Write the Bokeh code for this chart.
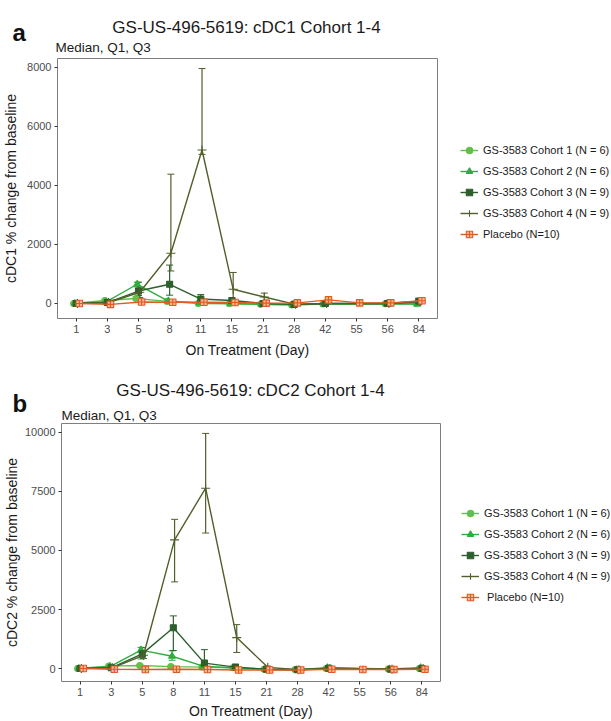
from bokeh.plotting import figure
from bokeh.models import (ColumnDataSource, FactorRange, Range1d, FixedTicker, Whisker,
                          TeeHead, Legend, LegendItem, Label)
from bokeh.transform import dodge
from bokeh.layouts import column, row
from bokeh.embed import file_html
from bokeh.resources import INLINE

days = ['1', '3', '5', '8', '11', '15', '21', '28', '42', '55', '56', '84']

series_names = ["GS-3583 Cohort 1 (N = 6)", "GS-3583 Cohort 2 (N = 6)",
                "GS-3583 Cohort 3 (N = 9)", "GS-3583 Cohort 4 (N = 9)", "Placebo (N=10)"]

# ---- Panel a: cDC1 (median, Q1, Q3) ----
a_c1_med = [0, 100, 170, 70, 0, -10, -30, -50, -20, None, -10, -10]
a_c1_q1 = [0, 60, 120, 40, -20, -30, -50, -60, -40, None, -30, -30]
a_c1_q3 = [0, 130, 220, 110, 30, 10, -10, -30, 0, None, 10, 10]
a_c2_med = [0, 50, 650, 80, 20, 0, -30, -50, -20, None, -10, -20]
a_c2_q1 = [0, 20, 560, 40, 0, -20, -50, -70, -40, None, -30, -40]
a_c2_q3 = [0, 90, 720, 130, 50, 20, -10, -30, 0, None, 10, 0]
a_c3_med = [0, 30, 420, 650, 150, 100, 0, -30, 0, None, 0, 80]
a_c3_q1 = [0, 0, 270, 280, 50, 40, -30, -60, -20, None, -30, 20]
a_c3_q3 = [0, 80, 720, 1300, 300, 180, 30, 0, 30, None, 40, 150]
a_c4_med = [0, 30, 380, 1700, 5200, 480, 220, -30, 0, None, 0, 60]
a_c4_q1 = [0, 0, 200, 1100, 5050, 100, 50, -60, -20, None, -30, 20]
a_c4_q3 = [0, 80, 560, 4380, 7960, 1050, 350, 0, 30, None, 30, 120]
a_pl_med = [0, -30, 50, 40, 40, 30, 10, 20, 120, 20, 20, 90]
a_pl_q1 = [-20, -60, 20, 10, 10, 0, -20, -10, 80, -10, -10, 60]
a_pl_q3 = [20, 0, 80, 70, 70, 60, 40, 50, 160, 50, 50, 120]

# ---- Panel b: cDC2 (median, Q1, Q3) ----
b_c1_med = [0, 100, 130, 80, 60, 30, -30, -40, 0, None, -20, 0]
b_c1_q1 = [0, 60, 90, 40, 30, 0, -50, -60, -20, None, -40, -20]
b_c1_q3 = [0, 130, 170, 120, 90, 60, -10, -20, 20, None, 0, 20]
b_c2_med = [0, 80, 780, 520, 100, 20, -40, -50, 30, None, -20, 30]
b_c2_q1 = [0, 40, 400, 350, 50, 0, -60, -70, 0, None, -40, 0]
b_c2_q3 = [0, 120, 900, 750, 150, 50, -20, -30, 60, None, 0, 60]
b_c3_med = [0, 30, 620, 1730, 230, 60, -30, -50, 10, None, -30, 0]
b_c3_q1 = [0, 0, 480, 760, 0, 20, -50, -70, -10, None, -50, -20]
b_c3_q3 = [0, 70, 880, 2230, 800, 100, -10, -30, 30, None, -10, 20]
b_c4_med = [0, 30, 560, 5450, 7640, 1310, 50, -50, 0, None, -30, 0]
b_c4_q1 = [0, 0, 420, 3670, 5740, 680, 0, -70, -20, None, -50, -20]
b_c4_q3 = [0, 70, 700, 6320, 9960, 1860, 100, -30, 20, None, -10, 20]
b_pl_med = [0, -30, -40, -30, -40, -60, -60, -60, -30, -40, -40, -30]
b_pl_q1 = [-20, -50, -60, -50, -60, -80, -80, -80, -50, -60, -60, -50]
b_pl_q3 = [20, -10, -20, -10, -20, -40, -40, -40, -10, -20, -20, -10]

a_ticks = [0, 2000, 4000, 6000, 8000]
b_ticks = [0, 2500, 5000, 7500, 10000]

colors = ["#62c04a", "#2fae3c", "#2d5f2d", "#515f2a", "#e05a24"]
markers = ["circle", "triangle", "square", "cross", "square_cross"]
msizes = [6, 7, 6, 9, 6.5]
fills = ["#62c04a", "#2fae3c", "#2d5f2d", "#515f2a", "#f4b896"]
offsets = [-0.08, -0.04, 0.0, 0.04, 0.1]

FONT = "Liberation Sans"
W = 611


def style_blank(f):
    f.outline_line_color = None
    f.xgrid.grid_line_color = None
    f.ygrid.grid_line_color = None
    f.background_fill_color = "white"
    f.border_fill_color = "white"
    return f


def make_header(letter, title, height, title_cx, title_y, letter_y, sub_x, sub_y):
    h = figure(width=W, height=height, x_range=Range1d(0, W), y_range=Range1d(height, 0),
               output_backend="svg", toolbar_location=None,
               x_axis_location=None, y_axis_location=None,
               min_border=0, min_border_left=0, min_border_right=0,
               min_border_top=0, min_border_bottom=0)
    style_blank(h)
    h.add_layout(Label(x=title_cx, y=title_y, text=title, text_font=FONT,
                       text_font_size="17px", text_align="center",
                       text_baseline="alphabetic", text_color="#1a1a1a"))
    h.add_layout(Label(x=12, y=letter_y, text=letter, text_font=FONT,
                       text_font_size="24px", text_font_style="bold",
                       text_align="left", text_baseline="alphabetic", text_color="#111111"))
    h.add_layout(Label(x=sub_x, y=sub_y, text="Median, Q1, Q3", text_font=FONT,
                       text_font_size="13.5px", text_align="left",
                       text_baseline="alphabetic", text_color="#1a1a1a"))
    return h


def make_panel(ylabel, meds, q1s, q3s, yr, ticks, width, height, top, bottom, left,
               ystand, xlab_stand, legend_labels, leg_x, leg_bottom):
    p = figure(x_range=FactorRange(*days, range_padding=0.1, range_padding_units="absolute"),
               y_range=Range1d(*yr), width=width, height=height,
               output_backend="svg", toolbar_location=None,
               min_border_left=left, min_border_right=2,
               min_border_top=top, min_border_bottom=bottom)
    p.xgrid.grid_line_color = None
    p.ygrid.grid_line_color = None
    p.outline_line_color = "#7f7f7f"
    p.outline_line_width = 1
    p.background_fill_color = "white"
    p.border_fill_color = "white"
    for ax in (p.xaxis[0], p.yaxis[0]):
        ax.axis_line_color = None
        ax.major_tick_line_color = "#333333"
        ax.major_tick_out = 3
        ax.major_tick_in = 0
        ax.minor_tick_line_color = None
        ax.major_label_text_font = FONT
        ax.major_label_text_font_size = "11px"
        ax.major_label_text_color = "#4d4d4d"
        ax.axis_label_text_font = FONT
        ax.axis_label_text_font_size = "14px"
        ax.axis_label_text_font_style = "normal"
        ax.axis_label_text_color = "#1a1a1a"
        ax.major_label_standoff = 3
    p.yaxis[0].ticker = FixedTicker(ticks=ticks)
    p.yaxis[0].axis_label = ylabel
    p.yaxis[0].axis_label_standoff = ystand
    p.xaxis[0].axis_label = "On Treatment (Day)"
    p.xaxis[0].axis_label_standoff = xlab_stand

    # side figure that only shows the legend (its view window holds no data)
    lf = figure(width=W - width, height=height,
                x_range=FactorRange(*days), y_range=Range1d(1e6, 1e6 + 1),
                output_backend="svg", toolbar_location=None,
                x_axis_location=None, y_axis_location=None,
                min_border=0, min_border_left=0, min_border_right=0,
                min_border_top=0, min_border_bottom=0)
    style_blank(lf)

    items = []
    for i in range(5):
        d, m, lo, hi = [], [], [], []
        for k, day in enumerate(days):
            if meds[i][k] is None:
                continue
            d.append(day)
            m.append(meds[i][k])
            lo.append(q1s[i][k])
            hi.append(q3s[i][k])
        src = ColumnDataSource(dict(day=d, med=m, lo=lo, hi=hi))
        xs = dodge("day", offsets[i], range=p.x_range)
        wk = Whisker(source=src, base=xs, upper="hi", lower="lo", dimension="height",
                     line_color=colors[i], line_width=1.2,
                     upper_head=TeeHead(size=7, line_color=colors[i], line_width=1),
                     lower_head=TeeHead(size=7, line_color=colors[i], line_width=1))
        p.add_layout(wk)
        p.line(x=xs, y="med", source=src, line_color=colors[i], line_width=1.4)
        p.scatter(x=xs, y="med", source=src, marker=markers[i], size=msizes[i],
                  line_color=colors[i], fill_color=fills[i], line_width=1.1)
        ln = lf.line(x="day", y="med", source=src, line_color=colors[i], line_width=1.4)
        sc = lf.scatter(x="day", y="med", source=src, marker=markers[i], size=msizes[i],
                        line_color=colors[i], fill_color=fills[i], line_width=1.1)
        items.append(LegendItem(label=legend_labels[i], renderers=[ln, sc]))

    leg = Legend(items=items, location=(leg_x, leg_bottom), orientation="vertical",
                 border_line_color=None, background_fill_alpha=0, padding=0, margin=0,
                 spacing=5, glyph_width=18, glyph_height=16, label_height=16,
                 label_standoff=5, label_text_font=FONT, label_text_font_size="11px",
                 label_text_color="#1a1a1a")
    lf.add_layout(leg, "center")
    return row(p, lf, spacing=0)


meds_a = [a_c1_med, a_c2_med, a_c3_med, a_c4_med, a_pl_med]
q1s_a = [a_c1_q1, a_c2_q1, a_c3_q1, a_c4_q1, a_pl_q1]
q3s_a = [a_c1_q3, a_c2_q3, a_c3_q3, a_c4_q3, a_pl_q3]
meds_b = [b_c1_med, b_c2_med, b_c3_med, b_c4_med, b_pl_med]
q1s_b = [b_c1_q1, b_c2_q1, b_c3_q1, b_c4_q1, b_pl_q1]
q3s_b = [b_c1_q3, b_c2_q3, b_c3_q3, b_c4_q3, b_pl_q3]

labels_b = series_names[:4] + [" Placebo (N=10)"]

head_a = make_header("a", "GS-US-496-5619: cDC1 Cohort 1-4", 55, 246, 27, 32, 55, 47)
panel_a = make_panel("cDC1 % change from baseline", meds_a, q1s_a, q3s_a,
                     (-510, 8300), a_ticks, 439, 305, 3, 42, 56, 5, 6,
                     series_names, 21, 76)
head_b = make_header("b", "GS-US-496-5619: cDC2 Cohort 1-4", 62, 250, 30, 43, 61, 55)
panel_b = make_panel("cDC2 % change from baseline", meds_b, q1s_b, q3s_b,
                     (-550, 10380), b_ticks, 442, 299, 1, 39, 61, 2, 4,
                     labels_b, 19, 76)

layout = column(head_a, panel_a, head_b, panel_b, spacing=0)
open("out.html", "w").write(file_html(layout, INLINE))
